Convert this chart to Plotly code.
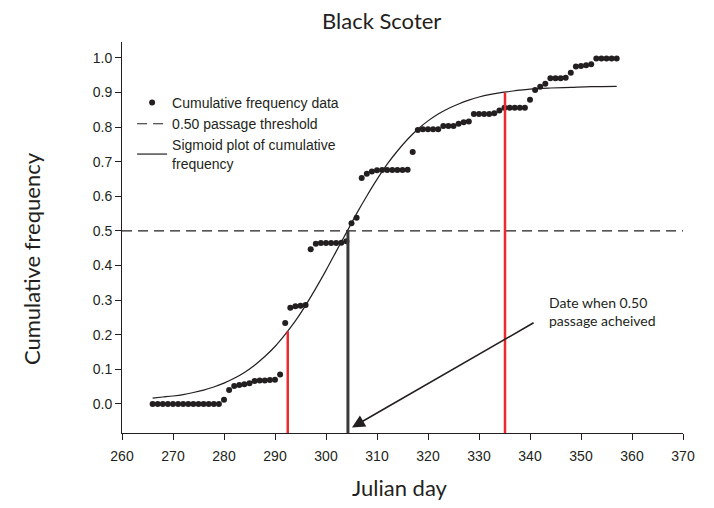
import plotly.graph_objects as go

# ---- data ----
days = list(range(266, 358))
cum_freq = [
    0.0, 0.0, 0.0, 0.0, 0.0, 0.0, 0.0, 0.0, 0.0, 0.0, 0.0, 0.0, 0.0, 0.0,  # 266-279
    0.012, 0.040, 0.052, 0.055, 0.057, 0.060, 0.066, 0.068, 0.068, 0.069, 0.070,  # 280-290
    0.085, 0.234, 0.278, 0.282, 0.284, 0.286,  # 291-296
    0.447, 0.463, 0.465, 0.465, 0.465, 0.465, 0.466, 0.470,  # 297-304
    0.522, 0.538, 0.653, 0.665, 0.672, 0.675, 0.676, 0.676, 0.676, 0.676, 0.676, 0.677,  # 305-316
    0.728, 0.792, 0.794, 0.794, 0.794, 0.794, 0.803, 0.803, 0.803, 0.810, 0.814, 0.816,  # 317-328
    0.838, 0.838, 0.838, 0.838, 0.840, 0.848, 0.856, 0.856, 0.856, 0.856, 0.856,  # 329-339
    0.879, 0.907, 0.917, 0.925, 0.941, 0.941, 0.941, 0.943, 0.957,  # 340-348
    0.975, 0.977, 0.979, 0.982, 0.998, 0.998, 0.998, 0.998, 0.998,  # 349-357
]

sigmoid_days = [266, 268, 270, 272, 274, 276, 278, 280, 282, 284, 286, 288, 290, 292,
                294, 296, 298, 300, 302, 304, 306, 308, 310, 312, 314, 316, 318, 320,
                322, 324, 326, 328, 330, 332, 334, 336, 338, 340, 344, 348, 352, 357]
sigmoid_vals = [0.017, 0.020, 0.023, 0.027, 0.033, 0.040, 0.049, 0.060, 0.074, 0.091,
                0.112, 0.137, 0.166, 0.201, 0.240, 0.285, 0.334, 0.386, 0.441, 0.495,
                0.550, 0.601, 0.649, 0.693, 0.731, 0.765, 0.794, 0.818, 0.838, 0.854,
                0.867, 0.878, 0.887, 0.894, 0.899, 0.903, 0.907, 0.910, 0.913, 0.915,
                0.917, 0.918]

threshold = 0.50
x_range = [260, 370]
y_range = [-0.084, 1.046]
passage_day = 304.3
red_days = [292.5, 335.1]
red_tops = [0.21, 0.899]
x_ticks = list(range(260, 371, 10))
y_ticks = [round(0.1 * i, 1) for i in range(11)]

TXT = "#231f20"
HUM = "Lato, 'Open Sans', sans-serif"
ARIAL = "'Liberation Sans', Arial, sans-serif"

fig = go.Figure()

fig.add_trace(go.Scatter(
    x=days, y=cum_freq, mode="markers", name="Cumulative frequency data",
    marker=dict(color=TXT, size=6),
))
fig.add_trace(go.Scatter(
    x=x_range, y=[threshold, threshold], mode="lines", name="0.50 passage threshold",
    line=dict(color=TXT, width=1.2, dash="10px,6px"),
))
fig.add_trace(go.Scatter(
    x=sigmoid_days, y=sigmoid_vals, mode="lines",
    name="Sigmoid plot of cumulative<br>frequency",
    line=dict(color=TXT, width=1.2, shape="spline"),
))

shapes = []
for d, top in zip(red_days, red_tops):
    shapes.append(dict(type="line", xref="x", yref="y", x0=d, x1=d, y0=y_range[0], y1=top,
                       line=dict(color="#ee2a2e", width=2.5)))
shapes.append(dict(type="line", xref="x", yref="y", x0=passage_day, x1=passage_day,
                   y0=y_range[0], y1=threshold, line=dict(color="#3a3a3c", width=3)))

annotations = [
    dict(x=305.1, y=-0.068, ax=341.0, ay=0.237, xref="x", yref="y", axref="x", ayref="y",
         text="", showarrow=True, arrowhead=2, arrowsize=1.6, arrowwidth=1.6, arrowcolor=TXT),
    dict(x=343.3, y=0.266, xref="x", yref="y", xanchor="left", yanchor="middle", align="left",
         text="Date when 0.50<br>passage acheived", showarrow=False,
         font=dict(family=HUM, size=14, color=TXT)),
    dict(x=0.463, y=1.055, xref="paper", yref="paper", xanchor="center", yanchor="middle",
         text="Black Scoter", showarrow=False, font=dict(family=HUM, size=22, color=TXT)),
    dict(x=-0.162, y=0.445, xref="paper", yref="paper", xanchor="center", yanchor="middle",
         text="Cumulative frequency", textangle=-90, showarrow=False,
         font=dict(family=HUM, size=22, color=TXT)),
    dict(x=0.496, y=-0.14, xref="paper", yref="paper", xanchor="center", yanchor="middle",
         text="Julian day", showarrow=False, font=dict(family=HUM, size=22, color=TXT)),
]

# the page body adds an 8px offset, so the figure is sized 706x500
fig.update_layout(
    width=706, height=500,
    margin=dict(l=114, r=31, t=34, b=75),
    paper_bgcolor="white", plot_bgcolor="white",
    shapes=shapes, annotations=annotations,
    showlegend=True,
    legend=dict(x=0.018, y=0.885, xanchor="left", yanchor="top",
                bgcolor="rgba(0,0,0,0)", font=dict(family=ARIAL, size=14, color=TXT),
                itemwidth=30, tracegroupgap=0),
    xaxis=dict(range=x_range, tickvals=x_ticks, showgrid=False, zeroline=False,
               showline=True, linecolor=TXT, linewidth=1, ticks="outside", ticklen=6,
               tickcolor=TXT, ticklabelstandoff=4,
               tickfont=dict(family=ARIAL, size=14, color=TXT)),
    yaxis=dict(range=y_range, tickvals=y_ticks, tickformat=".1f", showgrid=False,
               zeroline=False, showline=True, linecolor=TXT, linewidth=1, ticks="outside",
               ticklen=6, tickcolor=TXT, tickfont=dict(family=ARIAL, size=14, color=TXT)),
)

fig.write_html("out.html")
